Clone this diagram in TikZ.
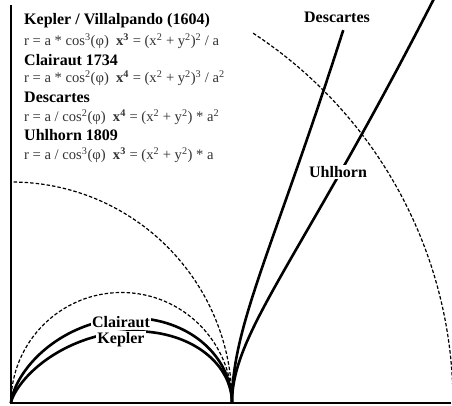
\documentclass[tikz,border=0pt]{standalone}
\usepackage{fontspec}
\setmainfont{Liberation Serif}
\newcommand{\sps}[1]{\textsuperscript{#1}}
\tikzset{
  curve/.style={line width=2.6pt, line join=round},
  axis/.style={line width=1.8pt},
  dashcirc/.style={line width=1.2pt, dash pattern=on 3.5pt off 2pt},
  head/.style={anchor=west, inner sep=0pt, font=\fontsize{16}{19}\selectfont\bfseries},
  formula/.style={anchor=west, inner sep=0pt, text=black!80, font=\fontsize{14.6}{17}\selectfont},
  clabel/.style={fill=white, inner sep=1.5pt, font=\fontsize{16}{19}\selectfont\bfseries}
}
\begin{document}
\begin{tikzpicture}[x=1pt,y=1pt]
\useasboundingbox (0,0) rectangle (452,406);
\fill[white] (0,0) rectangle (452,406);
\coordinate (O) at (11,3);
\coordinate (A) at (232,3);
\begin{scope}
\clip (0,0) rectangle (452,406);
% dashed circles
\draw[dashcirc] (232,3) arc[start angle=0, end angle=180, radius=110.5];
\draw[dashcirc] (232,3) arc[start angle=0, end angle=90, radius=221];
\draw[dashcirc] (453,3) arc[start angle=0, end angle=57, radius=442];
% Kepler r = a cos^3
\draw[curve] plot[domain=0:90, samples=120, smooth] ({11+221*cos(\x)^4}, {3+221*sin(\x)*cos(\x)^3});
% Clairaut r = a cos^2
\draw[curve] plot[domain=0:90, samples=120, smooth] ({11+221*cos(\x)^3}, {3+221*sin(\x)*cos(\x)^2});
% Descartes r = a / cos^2
\draw[curve] plot[domain=0:48.3, samples=80, smooth] ({11+221/cos(\x)}, {3+221*sin(\x)/cos(\x)^2});
% Uhlhorn r = a / cos^3
\draw[curve] plot[domain=0:44.5, samples=80, smooth] ({11+221/cos(\x)^2}, {3+221*sin(\x)/cos(\x)^3});
\end{scope}
% axes
\draw[axis] (11,401) -- (O) -- (451,3);
% curve labels
\node[clabel] (lcl) at (121,84) {Clairaut};
\node[clabel] (lke) at (121,66) {Kepler};
\node[clabel] (luh) at (338,234) {Uhlhorn};
\node[clabel, fill=none] (lde) at (337,389) {Descartes};
% text block
\node[head] (t1) at (24,385.5) {Kepler / Villalpando (1604)};
\node[formula] (t2) at (24,365) {r = a * cos\sps{3}(φ)\enspace\textbf{x\sps{3}} = (x\sps{2} + y\sps{2})\sps{2} / a};
\node[head] (t3) at (24,345.5) {Clairaut 1734};
\node[formula] (t4) at (24,327.5) {r = a * cos\sps{2}(φ)\enspace\textbf{x\sps{4}} = (x\sps{2} + y\sps{2})\sps{3} / a\sps{2}};
\node[head] (t5) at (24,308.5) {Descartes};
\node[formula] (t6) at (24,289) {r = a / cos\sps{2}(φ)\enspace\textbf{x\sps{4}} = (x\sps{2} + y\sps{2}) * a\sps{2}};
\node[head] (t7) at (24,271) {Uhlhorn 1809};
\node[formula] (t8) at (24,251) {r = a / cos\sps{3}(φ)\enspace\textbf{x\sps{3}} = (x\sps{2} + y\sps{2}) * a};
\end{tikzpicture}
\end{document}
